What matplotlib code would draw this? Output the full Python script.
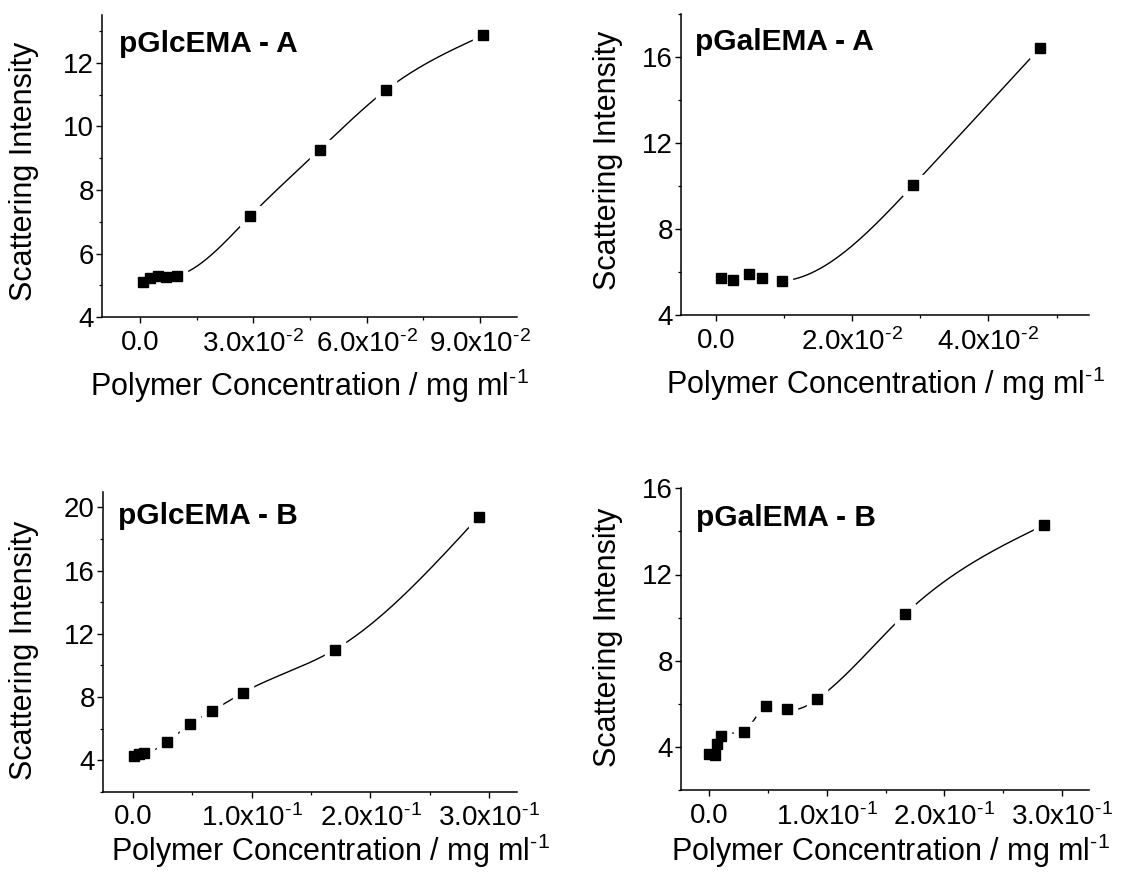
import numpy as np
import matplotlib
matplotlib.use("Agg")
import matplotlib.pyplot as plt
from matplotlib.ticker import MultipleLocator

plt.rcParams["font.family"] = ["Liberation Sans", "DejaVu Sans"]
plt.rcParams["mathtext.fontset"] = "custom"
plt.rcParams["mathtext.rm"] = "Liberation Sans"
plt.rcParams["mathtext.it"] = "Liberation Sans:italic"
plt.rcParams["mathtext.bf"] = "Liberation Sans:bold"
plt.rcParams["mathtext.sf"] = "Liberation Sans"

# ---- data: polymer concentration (mg/ml) vs scattering intensity ----
glc_a_conc = [0.0009, 0.0027, 0.0049, 0.0069, 0.0097, 0.0291, 0.0476, 0.0651, 0.0909]
glc_a_int = [5.10, 5.23, 5.30, 5.27, 5.30, 7.17, 9.27, 11.14, 12.86]

gal_a_conc = [0.0007, 0.0026, 0.0049, 0.0068, 0.0097, 0.0290, 0.0475]
gal_a_int = [5.71, 5.63, 5.91, 5.71, 5.58, 10.05, 16.40]

glc_b_conc = [0.0011, 0.0053, 0.0095, 0.029, 0.048, 0.0665, 0.0926, 0.170, 0.291]
glc_b_int = [4.23, 4.38, 4.44, 5.15, 6.27, 7.11, 8.27, 11.0, 19.41]

gal_b_conc = [0.0, 0.0048, 0.0068, 0.0099, 0.0295, 0.048, 0.0659, 0.0919, 0.167, 0.285]
gal_b_int = [3.66, 3.61, 4.13, 4.50, 4.70, 5.91, 5.76, 6.22, 10.18, 14.30]

titles = ["pGlcEMA - A", "pGalEMA - A", "pGlcEMA - B", "pGalEMA - B"]

xticks_a_glc = [0.0, 0.03, 0.06, 0.09]
xlabels_a_glc = ["0.0", r"3.0x10$^{\text{-2}}$", r"6.0x10$^{\text{-2}}$", r"9.0x10$^{\text{-2}}$"]
xticks_a_gal = [0.0, 0.02, 0.04]
xlabels_a_gal = ["0.0", r"2.0x10$^{\text{-2}}$", r"4.0x10$^{\text{-2}}$"]
xticks_b = [0.0, 0.1, 0.2, 0.3]
xlabels_b = ["0.0", r"1.0x10$^{\text{-1}}$", r"2.0x10$^{\text{-1}}$", r"3.0x10$^{\text{-1}}$"]

yticks_glc_a = [4, 6, 8, 10, 12]
yticks_gal_a = [4, 8, 12, 16]
yticks_glc_b = [4, 8, 12, 16, 20]
yticks_gal_b = [4, 8, 12, 16]

x_title = r"Polymer Concentration / mg ml$^{\text{-1}}$"
y_title = "Scattering Intensity"


def spline_curve(x, y, num=400):
    """Natural cubic spline through the given points, for the smooth connector."""
    x = np.asarray(x, float)
    y = np.asarray(y, float)
    n = len(x)
    h = np.diff(x)
    A = np.zeros((n, n))
    r = np.zeros(n)
    A[0, 0] = A[-1, -1] = 1.0
    for i in range(1, n - 1):
        A[i, i - 1] = h[i - 1]
        A[i, i] = 2 * (h[i - 1] + h[i])
        A[i, i + 1] = h[i]
        r[i] = 3 * ((y[i + 1] - y[i]) / h[i] - (y[i] - y[i - 1]) / h[i - 1])
    c = np.linalg.solve(A, r)
    b = (y[1:] - y[:-1]) / h - h * (2 * c[:-1] + c[1:]) / 3
    d = (c[1:] - c[:-1]) / (3 * h)
    xs = np.linspace(x[0], x[-1], num)
    idx = np.clip(np.searchsorted(x, xs) - 1, 0, n - 2)
    dx = xs - x[idx]
    ys = y[idx] + b[idx] * dx + c[idx] * dx ** 2 + d[idx] * dx ** 3
    return xs, ys


fig = plt.figure(figsize=(11.25, 8.89), dpi=100)
W, H = 1125.0, 889.0

panels = [
    dict(rect=(101.7, 15.0, 516.7, 317.3), x=glc_a_conc, y=glc_a_int,
         xlim=(-0.0101, 0.0997), ylim=(4, 13.5), xt=xticks_a_glc, xl=xlabels_a_glc,
         xminor=0.015, yt=yticks_glc_a, yminor=1, title_pos=(0.042, 0.878),
         ylab=(24, 171.7), xlab=(309, 396)),
    dict(rect=(681.0, 14.0, 1089.3, 315.0), x=gal_a_conc, y=gal_a_int,
         xlim=(-0.0051, 0.0548), ylim=(4, 18), xt=xticks_a_gal, xl=xlabels_a_gal,
         xminor=0.01, yt=yticks_gal_a, yminor=2, title_pos=(0.034, 0.882),
         ylab=(608, 160), xlab=(885, 394)),
    dict(rect=(102.7, 491.7, 516.7, 791.7), x=glc_b_conc, y=glc_b_int,
         xlim=(-0.0253, 0.323), ylim=(2, 21), xt=xticks_b, xl=xlabels_b,
         xminor=0.05, yt=yticks_glc_b, yminor=2, title_pos=(0.038, 0.891),
         ylab=(24, 650), xlab=(330, 861)),
    dict(rect=(681.0, 488.3, 1089.3, 790.0), x=gal_b_conc, y=gal_b_int,
         xlim=(-0.024, 0.3234), ylim=(2, 16), xt=xticks_b, xl=xlabels_b,
         xminor=0.05, yt=yticks_gal_b, yminor=2, title_pos=(0.037, 0.875),
         ylab=(608, 637.5), xlab=(890, 861)),
]

for p, title in zip(panels, titles):
    l, t, r, b = p["rect"]
    ax = fig.add_axes([l / W, 1 - b / H, (r - l) / W, (b - t) / H])
    ax.set_xlim(*p["xlim"])
    ax.set_ylim(*p["ylim"])
    for side in ("top", "right"):
        ax.spines[side].set_visible(False)
    for side in ("left", "bottom"):
        ax.spines[side].set_linewidth(1.1)

    xs, ys = spline_curve(p["x"], p["y"])
    ax.plot(xs, ys, color="black", lw=1.0, zorder=2)
    # white halo under each symbol opens a gap in the connecting line
    ax.plot(p["x"], p["y"], ls="none", marker="s", ms=14, color="white",
            mec="white", zorder=3)
    ax.plot(p["x"], p["y"], ls="none", marker="s", ms=7.8, color="black",
            mec="black", zorder=4)

    ax.set_xticks(p["xt"], labels=p["xl"])
    ax.set_yticks(p["yt"])
    ax.xaxis.set_minor_locator(MultipleLocator(p["xminor"]))
    ax.yaxis.set_minor_locator(MultipleLocator(p["yminor"]))
    ax.tick_params(which="major", direction="out", length=4.2, width=1.0,
                   labelsize=20)
    ax.tick_params(which="minor", direction="out", length=2.4, width=0.9)
    ax.tick_params(axis="x", which="major", pad=5.0)
    ax.tick_params(axis="y", which="major", pad=1.5)

    ax.text(p["title_pos"][0], p["title_pos"][1], title, transform=ax.transAxes,
            fontsize=21.5, fontweight="bold", ha="left", va="baseline")

    fig.text(p["ylab"][0] / W, 1 - p["ylab"][1] / H, y_title, rotation=90,
             ha="center", va="center", fontsize=22)
    fig.text(p["xlab"][0] / W, 1 - p["xlab"][1] / H, x_title,
             ha="center", va="baseline", fontsize=22)

fig.savefig("out.png", dpi=100, facecolor="white")
